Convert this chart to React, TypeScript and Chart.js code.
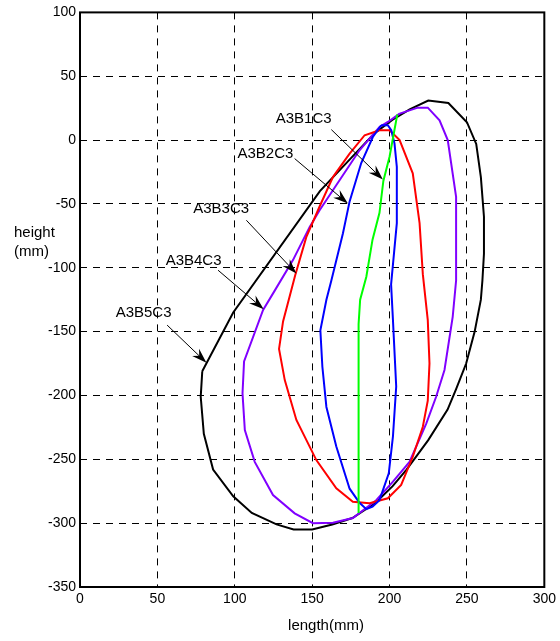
import { useEffect, useRef } from "react";
import { Chart, registerables } from "chart.js";
import type { Plugin } from "chart.js";

Chart.register(...registerables);

// contour outlines, length (x) and height (y) in mm
const A3B1C3_X = [205, 200, 196, 193.5, 189, 185, 181, 180, 180];
const A3B1C3_Y = [20, -13, -32, -57, -78, -107, -125, -144, -292];

const A3B2C3_X = [
  194.6, 198.9, 201.1, 203.2, 204.7, 204.7, 201, 202.2, 204.3, 202.2, 199.5, 193.5, 189, 185,
  180.6, 174.2, 165.6, 159.2, 156.6, 155.3, 159.2, 162.4, 169.9, 174.2, 181.7, 189.2, 194.6,
];
const A3B2C3_Y = [
  11.6, 11.6, 7.7, -2.7, -21, -65, -113, -141, -193, -232, -261, -282, -287, -289, -284, -273,
  -240, -209, -177.5, -149, -125, -110, -73, -48, -18, 2.4, 11.6,
];

const A3B3C3_X = [
  193.5, 200, 206.5, 215, 219.4, 221.5, 224.7, 225.8, 224.7, 221.5, 215, 207.5, 198.9, 187.1,
  176.3, 165.6, 152.7, 139.8, 132.3, 128.6, 131.2, 139, 146.2, 154.8, 163.4, 174.2, 183.9, 193.5,
];
const A3B3C3_Y = [
  7.7, 7.7, 0, -26, -65, -105, -141, -175, -204, -224.5, -248, -270, -280.5, -284.4, -283.2,
  -272.7, -250.6, -219.2, -188, -163.5, -142, -106, -76, -52, -29, -10.6, 3.8, 7.7,
];

const A3B4C3_X = [
  206.5, 218.3, 224.7, 232.3, 237.6, 243, 243, 240.8, 235.5, 230.1, 223.7, 212.9, 202.2, 191.4,
  176.3, 163.4, 150.5, 138.7, 124.7, 112.9, 106.5, 105, 106, 118.3, 126, 137.6, 148.4, 154.8,
  167.7, 180.6, 193.5, 198.9, 206.5,
];
const A3B4C3_Y = [
  20.7, 25.4, 25.4, 15.5, 0, -44.5, -110, -138.4, -180, -201, -222, -252, -267.5, -282, -296,
  -299.6, -300, -292.3, -278, -252, -227, -198.4, -173.3, -133, -117.5, -94, -68, -55, -31.5, -8,
  10.3, 14.2, 20.7,
];

const A3B5C3_X = [
  79, 99, 155, 176, 190, 202, 213, 225, 238, 250, 256, 259, 261, 261, 260, 259, 255, 249.5, 243,
  237.5, 225, 211, 202, 191, 176, 163, 150, 138, 127, 111, 99, 86, 80, 78, 79,
];
const A3B5C3_Y = [
  -181, -135, -40, -13, 5, 16, 24, 31, 29, 14, -3, -29, -60, -89, -110, -125, -150, -175, -195,
  -211, -235, -258, -271, -284, -296, -301, -305, -305, -301, -292, -279, -258, -230, -201, -181,
];

// callouts: label centre, then arrow from / to (data units)
const LABEL_TEXT = ["A3B1C3", "A3B2C3", "A3B3C3", "A3B4C3", "A3B5C3"];
const LABEL_X = [144.5, 119.8, 91.2, 73.4, 41.1];
const LABEL_Y = [16.3, -10.6, -54.1, -94.6, -135.3];
const ARROW_FROM_X = [162.4, 138.7, 107.5, 89.2, 56.3];
const ARROW_FROM_Y = [8.2, -14.5, -62.8, -101.9, -144.9];
const ARROW_TO_X = [195.7, 173.1, 139.8, 118.7, 81.7];
const ARROW_TO_Y = [-30.9, -49.7, -104.5, -132.4, -174.4];

const FONT = '"Liberation Sans", Arial, Helvetica, sans-serif';

function toPoints(xs: number[], ys: number[]) {
  return xs.map((x, i) => ({ x, y: ys[i] }));
}

function drawArrow(ctx: CanvasRenderingContext2D, x0: number, y0: number, x1: number, y1: number) {
  const ang = Math.atan2(y1 - y0, x1 - x0);
  const c = Math.cos(ang);
  const s = Math.sin(ang);
  const len = 15;
  const half = 5;
  const notch = 10;
  ctx.beginPath();
  ctx.moveTo(x0, y0);
  ctx.lineTo(x1 - notch * c, y1 - notch * s);
  ctx.lineWidth = 1;
  ctx.stroke();
  ctx.beginPath();
  ctx.moveTo(x1, y1);
  ctx.lineTo(x1 - len * c - half * s, y1 - len * s + half * c);
  ctx.lineTo(x1 - notch * c, y1 - notch * s);
  ctx.lineTo(x1 - len * c + half * s, y1 - len * s - half * c);
  ctx.closePath();
  ctx.fill();
}

const decorations: Plugin<"scatter"> = {
  id: "decorations",
  beforeDatasetsDraw(chart) {
    const { ctx, chartArea: a } = chart;
    ctx.save();
    ctx.strokeStyle = "#000";
    ctx.lineWidth = 2;
    ctx.strokeRect(a.left, a.top, a.right - a.left, a.bottom - a.top);
    ctx.restore();
  },
  afterDatasetsDraw(chart) {
    const { ctx } = chart;
    const sx = chart.scales.x;
    const sy = chart.scales.y;
    ctx.save();
    ctx.fillStyle = "#000";
    ctx.strokeStyle = "#000";
    ctx.font = `15px ${FONT}`;
    ctx.textAlign = "center";
    ctx.textBaseline = "middle";
    LABEL_TEXT.forEach((text, i) => {
      ctx.fillText(text, sx.getPixelForValue(LABEL_X[i]), sy.getPixelForValue(LABEL_Y[i]));
      drawArrow(
        ctx,
        sx.getPixelForValue(ARROW_FROM_X[i]),
        sy.getPixelForValue(ARROW_FROM_Y[i]),
        sx.getPixelForValue(ARROW_TO_X[i]),
        sy.getPixelForValue(ARROW_TO_Y[i])
      );
    });
    ctx.fillText("length(mm)", 326, 626);
    ctx.textAlign = "left";
    ctx.fillText("height", 14, 233);
    ctx.fillText("(mm)", 14, 252);
    ctx.restore();
  },
};

export default function App() {
  const canvasRef = useRef<HTMLCanvasElement>(null);

  useEffect(() => {
    document.body.style.margin = "0";
    if (!canvasRef.current) return;
    const line = (label: string, xs: number[], ys: number[], color: string) => ({
      label,
      data: toPoints(xs, ys),
      showLine: true,
      borderColor: color,
      backgroundColor: color,
      borderWidth: 2,
      pointRadius: 0,
      tension: 0,
    });
    const grid = {
      color: "#000",
      lineWidth: 1,
      drawTicks: false,
      tickLength: 0,
    };
    const chart = new Chart(canvasRef.current, {
      type: "scatter",
      data: {
        datasets: [
          line("A3B1C3", A3B1C3_X, A3B1C3_Y, "#00ff00"),
          line("A3B2C3", A3B2C3_X, A3B2C3_Y, "#0000ff"),
          line("A3B3C3", A3B3C3_X, A3B3C3_Y, "#ff0000"),
          line("A3B4C3", A3B4C3_X, A3B4C3_Y, "#8000ff"),
          line("A3B5C3", A3B5C3_X, A3B5C3_Y, "#000000"),
        ],
      },
      options: {
        responsive: false,
        animation: false,
        layout: { padding: { top: 12, right: 15, bottom: 0, left: 0 } },
        plugins: {
          legend: { display: false },
          tooltip: { enabled: false },
        },
        scales: {
          x: {
            type: "linear",
            min: 0,
            max: 300,
            grid,
            border: { display: false, dash: [7, 6] },
            ticks: {
              stepSize: 50,
              padding: 4,
              color: "#000",
              font: { family: FONT, size: 14 },
            },
            afterFit: (scale) => {
              scale.height = 54;
            },
          },
          y: {
            type: "linear",
            min: -350,
            max: 100,
            grid,
            border: { display: false, dash: [7, 6] },
            ticks: {
              stepSize: 50,
              padding: 4,
              color: "#000",
              font: { family: FONT, size: 14 },
            },
            afterFit: (scale) => {
              scale.width = 80;
            },
          },
        },
      },
      plugins: [decorations],
    });
    return () => chart.destroy();
  }, []);

  return (
    <div style={{ width: 560, height: 641, background: "#fff" }}>
      <canvas ref={canvasRef} width={560} height={641} style={{ display: "block" }} />
    </div>
  );
}
